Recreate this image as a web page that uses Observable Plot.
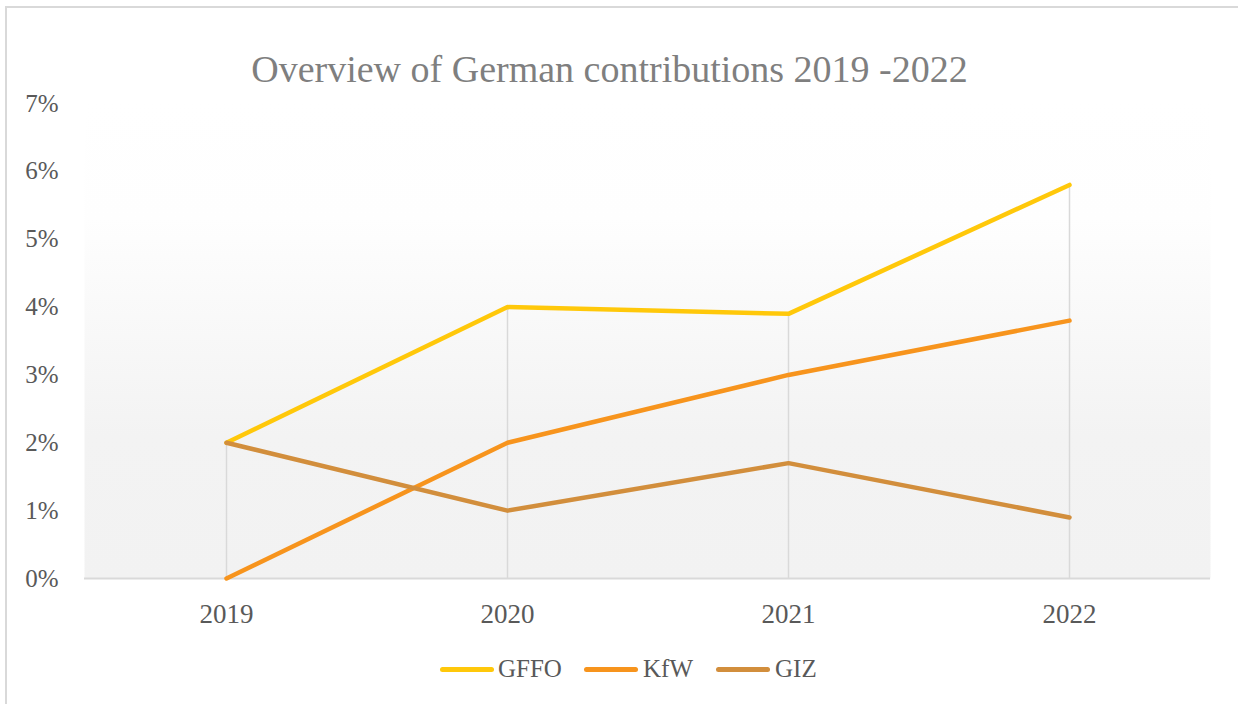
<!DOCTYPE html>
<html>
<head>
<meta charset="utf-8">
<script src="https://cdn.jsdelivr.net/npm/d3@7"></script>
<script src="https://cdn.jsdelivr.net/npm/@observablehq/plot@0.6"></script>
<style>
  html, body { margin: 0; padding: 0; background: #fff; }
  body { width: 1238px; height: 704px; position: relative; overflow: hidden; font-family: "Liberation Serif", "DejaVu Serif", serif; }
  #border { position: absolute; left: 5px; top: 6px; width: 1300px; height: 800px; border-top: 2px solid #d9d9d9; border-left: 2px solid #d9d9d9; }
  #chart { position: absolute; left: 0; top: 0; }
  #title { position: absolute; left: 0; top: 50px; width: 1219px; text-align: center; font-size: 38px; line-height: 38px; color: #7f7f7f; white-space: nowrap; }
  .sw { position: absolute; height: 4.5px; width: 54px; border-radius: 3px; top: 667px; }
  .lt { position: absolute; top: 656px; font-size: 25px; line-height: 25px; color: #595959; white-space: nowrap; }
</style>
</head>
<body>
<div id="border"></div>
<div id="chart"></div>
<div id="title">Overview of German contributions 2019 -2022</div>
<div id="legend"></div>
<script>
const years = ["2019", "2020", "2021", "2022"];
const seriesNames = ["GFFO", "KfW", "GIZ"];
const seriesColors = ["#FFC80A", "#F7941D", "#D28E3C"];
const gffo = [0.02, 0.04, 0.039, 0.058];
const kfw = [0.0, 0.02, 0.03, 0.038];
const giz = [0.02, 0.01, 0.017, 0.009];
const yTicks = [0, 0.01, 0.02, 0.03, 0.04, 0.05, 0.06, 0.07];

const valuesBySeries = [gffo, kfw, giz];
const rows = [];
seriesNames.forEach((s, i) => {
  years.forEach((y, j) => rows.push({ series: s, year: y, value: valuesBySeries[i][j] }));
});
const maxByYear = years.map((y, j) => ({ year: y, max: d3.max(valuesBySeries, v => v[j]) }));

const svg = Plot.plot({
  width: 1238,
  height: 704,
  marginLeft: 84,
  marginRight: 28,
  marginTop: 103,
  marginBottom: 126,
  style: { fontFamily: "'Liberation Serif', 'DejaVu Serif', serif", color: "#595959", background: "transparent", overflow: "visible" },
  x: { type: "point", domain: years, padding: 0.5 },
  y: { domain: [0, 0.07] },
  color: { domain: seriesNames, range: seriesColors },
  marks: [
    Plot.frame({ fill: "url(#bgGrad)", stroke: "none" }),
    Plot.ruleX(maxByYear, { x: "year", y1: 0, y2: "max", stroke: "#d9d9d9", strokeWidth: 1.5 }),
    Plot.ruleY([0], { stroke: "#d9d9d9", strokeWidth: 2 }),
    Plot.axisY({ ticks: yTicks, tickFormat: d3.format(".0%"), tickSize: 0, tickPadding: 26, fontSize: 25, fill: "#595959", label: null }),
    Plot.axisX({ tickSize: 0, tickPadding: 25, fontSize: 27, fill: "#595959", label: null }),
    Plot.lineY(rows, { x: "year", y: "value", z: "series", stroke: "series", strokeWidth: 4.5, strokeLinecap: "round", strokeLinejoin: "round" })
  ]
});

const ns = "http://www.w3.org/2000/svg";
const defs = document.createElementNS(ns, "defs");
const grad = document.createElementNS(ns, "linearGradient");
grad.setAttribute("id", "bgGrad");
grad.setAttribute("x1", "0"); grad.setAttribute("y1", "0");
grad.setAttribute("x2", "0"); grad.setAttribute("y2", "1");
[["0", "#ffffff"], ["0.24", "#fefefe"], ["0.7", "#f3f3f3"], ["1", "#f2f2f2"]].forEach(([o, c]) => {
  const st = document.createElementNS(ns, "stop");
  st.setAttribute("offset", o);
  st.setAttribute("stop-color", c);
  grad.appendChild(st);
});
defs.appendChild(grad);
svg.insertBefore(defs, svg.firstChild);
document.getElementById("chart").appendChild(svg);

// legend
const legend = document.getElementById("legend");
const swX = [440, 584, 716];
const txX = [498, 643, 775];
seriesNames.forEach((s, i) => {
  const sw = document.createElement("div");
  sw.className = "sw";
  sw.style.left = swX[i] + "px";
  sw.style.background = seriesColors[i];
  legend.appendChild(sw);
  const t = document.createElement("div");
  t.className = "lt";
  t.style.left = txX[i] + "px";
  t.textContent = s;
  legend.appendChild(t);
});
</script>
</body>
</html>
